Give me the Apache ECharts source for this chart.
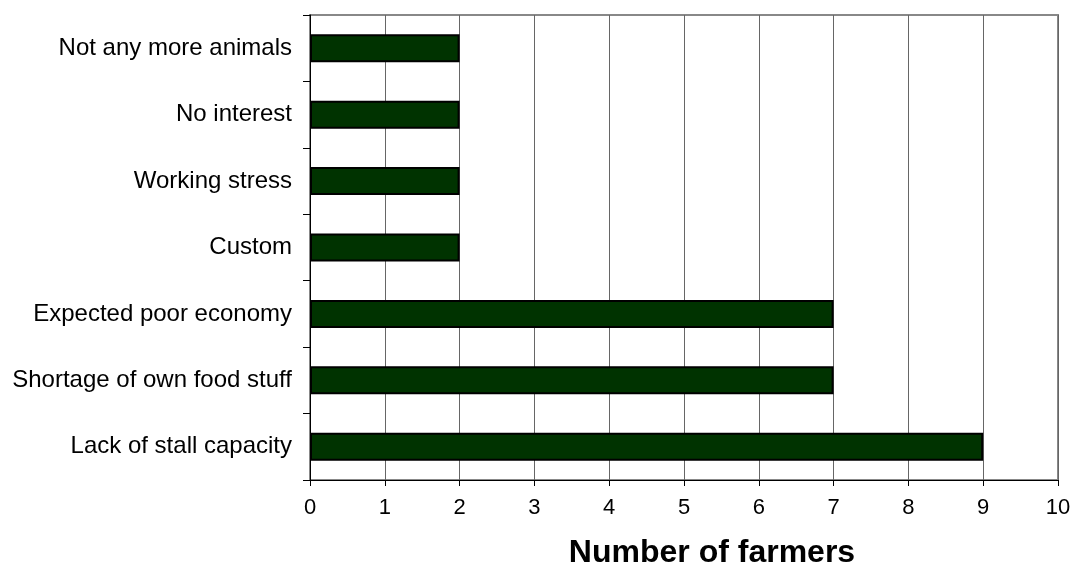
<!DOCTYPE html>
<html>
<head>
<meta charset="utf-8">
<script src="https://cdn.jsdelivr.net/npm/echarts@6/dist/echarts.min.js"></script>
<style>html,body{margin:0;padding:0;background:#fff}#c{width:1072px;height:567px}</style>
</head>
<body>
<div id="c"></div>
<script>
const categories = ["Lack of stall capacity","Shortage of own food stuff","Expected poor economy","Custom","Working stress","No interest","Not any more animals"];
const farmers = [9,7,7,2,2,2,2];
const xTicks = [0,10,1];

const chart = echarts.init(document.getElementById('c'), null, {renderer:'canvas'});
chart.setOption({
  animation:false,
  backgroundColor:'#ffffff',
  grid:{left:310,right:14,top:15,bottom:87,containLabel:false,outerBoundsMode:'none',show:true,borderColor:'#888888',borderWidth:2,backgroundColor:'transparent'},
  xAxis:{
    type:'value',min:xTicks[0],max:xTicks[1],interval:xTicks[2],
    name:'Number of farmers',nameLocation:'middle',nameGap:57,
    nameTextStyle:{fontFamily:'Liberation Sans, Arial',fontSize:32,fontWeight:'bold',color:'#000',padding:[0,0,0,56]},
    axisLine:{show:true,lineStyle:{color:'#000',width:1}},
    axisTick:{show:true,length:6,lineStyle:{color:'#000'}},
    axisLabel:{margin:17,fontFamily:'Liberation Sans, Arial',fontSize:22,color:'#000'},
    splitLine:{show:true,lineStyle:{color:'#666666',width:1}}
  },
  yAxis:{
    type:'category',data:categories,
    axisLine:{show:true,lineStyle:{color:'#000',width:1}},
    axisTick:{show:true,length:7,lineStyle:{color:'#000'}},
    axisLabel:{margin:18,fontFamily:'Liberation Sans, Arial',fontSize:24,color:'#000'},
    splitLine:{show:false}
  },
  series:[{
    type:'bar',data:farmers,barWidth:28,
    itemStyle:{color:'#003300',borderColor:'#000',borderWidth:2}
  }]
});
</script>
</body>
</html>
